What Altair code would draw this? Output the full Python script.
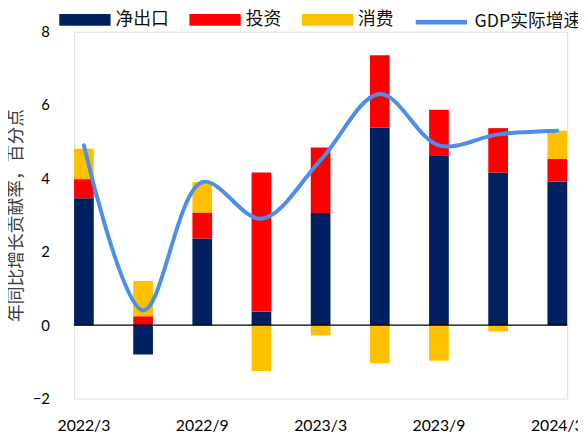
import altair as alt
import pandas as pd

quarters = ["2022/3", "2022/6", "2022/9", "2022/12", "2023/3",
            "2023/6", "2023/9", "2023/12", "2024/3"]
net_exports = [3.46, -0.80, 2.36, 0.37, 3.06, 5.38, 4.63, 4.16, 3.91]
investment = [0.52, 0.24, 0.71, 3.79, 1.78, 1.98, 1.24, 1.21, 0.62]
consumption = [0.83, 0.96, 0.83, -1.25, -0.28, -1.04, -0.97, -0.17, 0.77]
gdp_growth = [4.9, 0.4, 3.9, 2.9, 4.5, 6.3, 4.9, 5.2, 5.3]
bar_names = ["净出口", "投资", "消费"]
bar_colors = ["#002060", "#FF0000", "#FFC000"]
line_name = "GDP实际增速"
line_color = "#4B8FEA"
axis_labels = ["2022/3", "2022/9", "2023/3", "2023/9", "2024/3"]
y_title = "年同比增长贡献率，百分点"

rows = []
for i, q in enumerate(quarters):
    for k, vals in enumerate([net_exports, investment, consumption]):
        rows.append({"quarter": q, "series": bar_names[k], "value": vals[i], "ord": k})
bar_df = pd.DataFrame(rows)
line_df = pd.DataFrame({"quarter": quarters, "series": line_name, "value": gdp_growth})
zero_df = pd.DataFrame({"z": [0]})

FONT = "Lato"
CJK = "Noto Sans CJK SC"

x_scale = alt.Scale(domain=quarters, paddingInner=0.667, paddingOuter=0)
y_scale = alt.Scale(domain=[-2, 8], nice=False, zero=False)

bar_shape = "M-1,-0.231H1V0.231H-1Z"

bar_legend = alt.Legend(
    orient="none", legendX=-15, legendY=-38, direction="horizontal",
    title=None, symbolSize=2704, symbolType=bar_shape,
    labelFont=CJK, labelFontSize=18, labelColor="#111111",
    labelOffset=5, columnPadding=21, columns=3,
    symbolStrokeWidth=0, symbolOpacity=1,
)
line_legend = alt.Legend(
    orient="none", legendX=344, legendY=-38, direction="horizontal",
    title=None, symbolSize=2704, symbolType="stroke", symbolStrokeWidth=4.5,
    labelFont=CJK, labelFontSize=18, labelColor="#111111", labelOffset=5,
    symbolOpacity=1, labelLimit=300,
)

y_axis = alt.Axis(
    values=[-2, 0, 2, 4, 6, 8], grid=False, domain=False, ticks=False,
    labelFont=FONT, labelFontSize=15, labelColor="#000000", labelPadding=25,
    title=y_title, titleFont=CJK, titleFontSize=18, titleFontWeight="normal",
    titleColor="#404040", titleX=-58, titleY=186, titleAngle=270,
    titleAlign="center", titleBaseline="middle",
)

x_axis = alt.Axis(
    values=axis_labels, domain=False, ticks=False, grid=False,
    labelFont=FONT, labelFontSize=16, labelColor="#000000",
    labelPadding=19, labelAngle=0, title=None,
)

bars = alt.Chart(bar_df).mark_bar(opacity=1).encode(
    x=alt.X("quarter:N", sort=quarters, scale=x_scale, axis=x_axis),
    y=alt.Y("value:Q", stack="zero", scale=y_scale, axis=y_axis),
    fill=alt.Fill("series:N", scale=alt.Scale(domain=bar_names, range=bar_colors),
                  legend=bar_legend),
    order=alt.Order("ord:Q"),
)

line = alt.Chart(line_df).mark_line(
    interpolate="catmull-rom", strokeWidth=4, strokeCap="round"
).encode(
    x=alt.X("quarter:N", sort=quarters, scale=x_scale, axis=x_axis),
    y=alt.Y("value:Q", scale=y_scale, axis=y_axis),
    stroke=alt.Stroke("series:N", scale=alt.Scale(domain=[line_name], range=[line_color]),
                      legend=line_legend),
)

zero_rule = alt.Chart(zero_df).mark_rule(color="#000000", strokeWidth=1.3).encode(
    y=alt.Y("z:Q", scale=y_scale, axis=y_axis)
)

chart = alt.layer(bars, zero_rule, line).properties(
    width=500, height=372,
    autosize=alt.AutoSizeParams(type="none"),
    padding={"left": 67, "top": 21, "right": 11, "bottom": 32},
).configure_view(stroke=None).configure(background="white")

chart.save("out.html", embed_options={"renderer": "svg", "actions": False})
